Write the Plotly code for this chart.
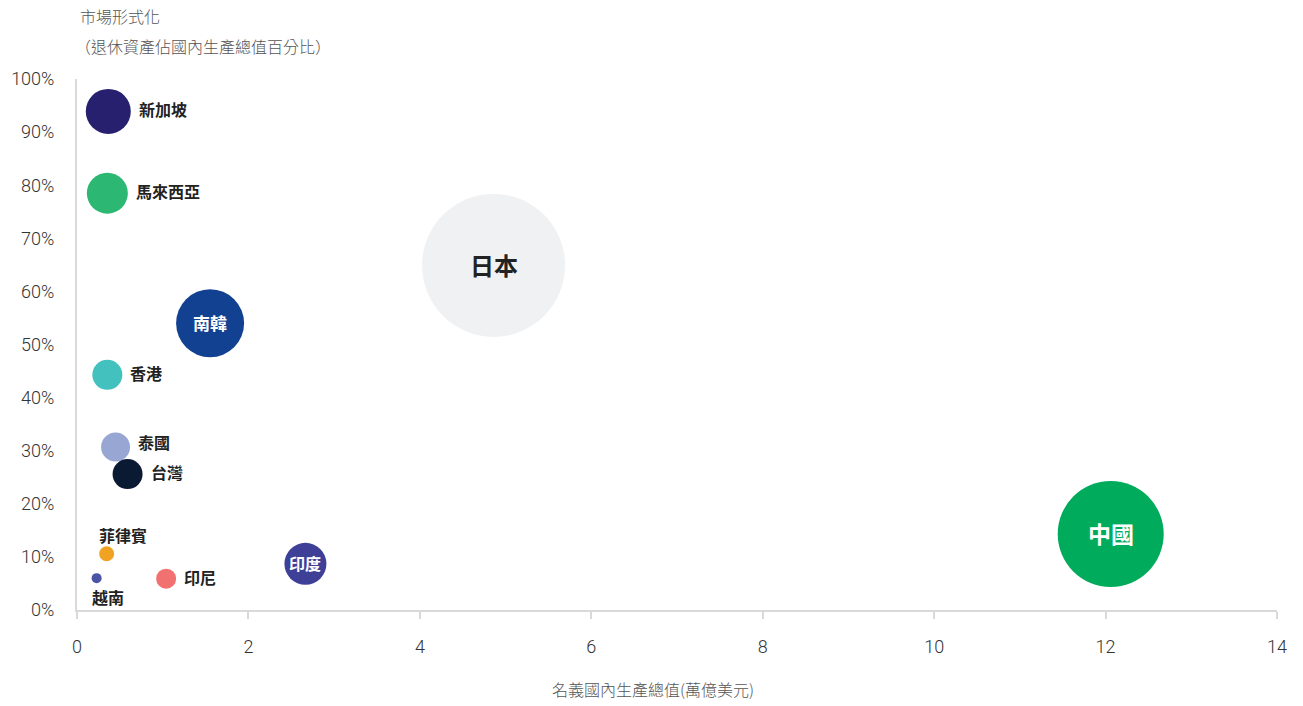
import plotly.graph_objects as go

countries = ["新加坡", "馬來西亞", "日本", "南韓", "香港", "泰國", "台灣", "菲律賓", "越南", "印尼", "印度", "中國"]
gdp = [0.365, 0.354, 4.86, 1.553, 0.354, 0.45, 0.59, 0.346, 0.229, 1.04, 2.665, 12.06]
pension_pct = [93.9, 78.5, 64.9, 54.0, 44.3, 30.7, 25.6, 10.6, 6.0, 5.9, 8.7, 14.3]
bubble_size = [45, 41, 143, 68, 30, 29, 30, 15, 10, 20, 42, 106]
colors = ["#26206e", "#2cb872", "#f0f1f3", "#134191", "#43c1bf", "#98a6d4",
          "#0b1a33", "#f0a323", "#4c55a5", "#f07170", "#3e3f96", "#00ab5b"]

x_ticks = [0, 2, 4, 6, 8, 10, 12, 14]
y_ticks = [0, 10, 20, 30, 40, 50, 60, 70, 80, 90, 100]
y_tick_labels = [f"{v}%" for v in y_ticks]

# label placement style: (mode, font size, color, vertical nudge px)
label_style = {
    "新加坡": ("right", 16, "#222222", 2),
    "馬來西亞": ("right", 16, "#222222", 2),
    "日本": ("center", 24, "#222222", 1),
    "南韓": ("center", 17, "#ffffff", 1),
    "香港": ("right", 16, "#222222", 2),
    "泰國": ("right", 16, "#222222", 5),
    "台灣": ("right", 16, "#222222", 2),
    "菲律賓": ("top", 16, "#222222", 19),
    "越南": ("bottom", 16, "#222222", -19),
    "印尼": ("right", 16, "#222222", 2),
    "印度": ("center", 16, "#ffffff", 1),
    "中國": ("center", 23, "#ffffff", 1),
}

CJK = "Noto Sans CJK TC"

fig = go.Figure()
fig.add_trace(go.Scatter(
    x=gdp, y=pension_pct, mode="markers",
    marker=dict(size=bubble_size, sizemode="diameter", sizeref=1,
                color=colors, opacity=1, line=dict(width=0)),
    hoverinfo="text", text=countries, showlegend=False,
))

annotations = []
for name, xv, yv, s in zip(countries, gdp, pension_pct, bubble_size):
    mode, fs, col, ys = label_style[name]
    font = dict(family=CJK, size=fs, color=col, weight="bold")
    if mode == "right":
        annotations.append(dict(x=xv, y=yv, text=name, showarrow=False, xanchor="left",
                                yanchor="middle", xshift=s / 2 + 6, yshift=ys, font=font))
    elif mode == "center":
        annotations.append(dict(x=xv, y=yv, text=name, showarrow=False, xanchor="center",
                                yanchor="middle", yshift=ys, font=font))
    else:
        annotations.append(dict(x=xv, y=yv, text=name, showarrow=False, xanchor="left",
                                yanchor="middle", xshift=-s / 2 - 2, yshift=ys, font=font))

title_font = dict(family=CJK, size=16, color="#555555", weight=300)
annotations += [
    dict(xref="paper", yref="paper", x=0.0, y=1 + (79 - 16) / 531, text="市場形式化",
         showarrow=False, xanchor="left", yanchor="middle", font=title_font, xshift=1),
    dict(xref="paper", yref="paper", x=0.0, y=1 + (79 - 46) / 531,
         text="（退休資產佔國內生產總值百分比）", showarrow=False, xanchor="left",
         yanchor="middle", font=title_font, xshift=-4),
    dict(xref="paper", yref="paper", x=(653 - 77) / 1200, y=-(689 - 610) / 531,
         text="名義國內生產總值(萬億美元)", showarrow=False, xanchor="center",
         yanchor="middle", font=title_font),
]

tick_font = dict(family="Roboto", size=18, color="#333333", weight=300)

fig.update_layout(
    width=1303, height=706,
    margin=dict(l=77, r=26, t=79, b=96, autoexpand=False),
    plot_bgcolor="white", paper_bgcolor="white",
    annotations=annotations,
    xaxis=dict(range=[0, 14], tickvals=x_ticks, ticktext=[str(v) for v in x_ticks],
               showgrid=False, zeroline=False, showline=True, linecolor="#d9d9d9",
               linewidth=2, ticks="outside", ticklen=7, tickcolor="#d9d9d9", tickwidth=1.5,
               tickfont=tick_font, ticklabelstandoff=12, fixedrange=True, automargin=False),
    yaxis=dict(range=[0, 100], tickvals=y_ticks, ticktext=y_tick_labels,
               showgrid=False, zeroline=False, showline=True, linecolor="#d9d9d9",
               linewidth=2, ticks="", tickfont=tick_font, ticklabelstandoff=17,
               fixedrange=True, automargin=False),
)

fig.write_html("out.html")
